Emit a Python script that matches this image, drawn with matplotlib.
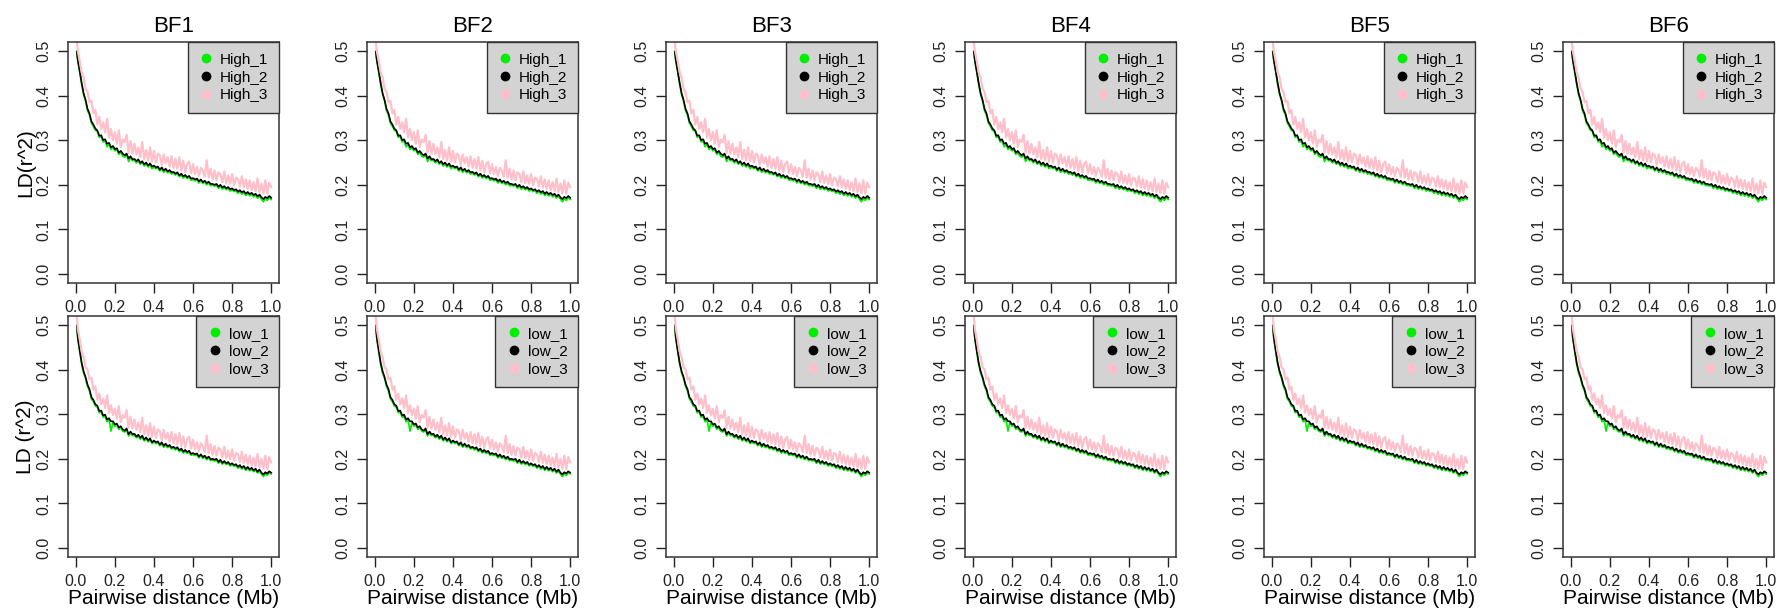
import numpy as np
import matplotlib.pyplot as plt
from matplotlib.lines import Line2D

plt.rcParams['font.family'] = ['Liberation Sans', 'DejaVu Sans']

# distance bins (Mb)
dist = [0.005] + [round(0.01 * i, 2) for i in range(1, 101)]

panels = ["BF1", "BF2", "BF3", "BF4", "BF5", "BF6"]
high_names = ["High_1", "High_2", "High_3"]
low_names = ["low_1", "low_2", "low_3"]
colors = ["#00ee00", "black", "pink"]

high_1 = [
    0.500, 0.478, 0.452, 0.425, 0.402, 0.388, 0.366, 0.356, 0.338, 0.331,
    0.322, 0.320, 0.306, 0.309, 0.296, 0.298, 0.285, 0.291, 0.279, 0.284,
    0.276, 0.279, 0.268, 0.273, 0.264, 0.262, 0.268, 0.252, 0.261, 0.254,
    0.255, 0.249, 0.254, 0.246, 0.251, 0.242, 0.247, 0.240, 0.245, 0.236,
    0.240, 0.236, 0.238, 0.231, 0.236, 0.228, 0.233, 0.227, 0.230, 0.224,
    0.226, 0.222, 0.225, 0.218, 0.222, 0.215, 0.219, 0.214, 0.217, 0.210,
    0.212, 0.209, 0.211, 0.204, 0.209, 0.203, 0.206, 0.200, 0.204, 0.198,
    0.199, 0.197, 0.199, 0.192, 0.197, 0.190, 0.194, 0.189, 0.192, 0.186,
    0.189, 0.185, 0.187, 0.181, 0.185, 0.179, 0.183, 0.176, 0.181, 0.175,
    0.179, 0.173, 0.177, 0.170, 0.175, 0.168, 0.162, 0.169, 0.165, 0.171, 0.167,
]
high_2 = [
    0.498, 0.480, 0.455, 0.428, 0.405, 0.390, 0.370, 0.360, 0.342, 0.335,
    0.326, 0.322, 0.310, 0.311, 0.300, 0.302, 0.292, 0.294, 0.284, 0.287,
    0.280, 0.282, 0.272, 0.276, 0.270, 0.266, 0.270, 0.259, 0.264, 0.257,
    0.258, 0.253, 0.257, 0.249, 0.253, 0.246, 0.250, 0.243, 0.248, 0.241,
    0.243, 0.239, 0.241, 0.234, 0.239, 0.232, 0.236, 0.230, 0.233, 0.228,
    0.229, 0.225, 0.228, 0.221, 0.225, 0.219, 0.222, 0.217, 0.220, 0.214,
    0.215, 0.212, 0.214, 0.208, 0.212, 0.206, 0.209, 0.204, 0.207, 0.202,
    0.202, 0.200, 0.202, 0.196, 0.200, 0.194, 0.197, 0.192, 0.195, 0.190,
    0.192, 0.188, 0.190, 0.185, 0.188, 0.183, 0.186, 0.180, 0.184, 0.179,
    0.182, 0.177, 0.180, 0.174, 0.178, 0.172, 0.168, 0.173, 0.170, 0.175, 0.171,
]
high_3 = [
    0.520, 0.500, 0.478, 0.452, 0.440, 0.415, 0.408, 0.385, 0.388, 0.360,
    0.368, 0.335, 0.352, 0.325, 0.340, 0.318, 0.348, 0.306, 0.325, 0.300,
    0.318, 0.292, 0.322, 0.285, 0.301, 0.296, 0.312, 0.272, 0.298, 0.270,
    0.292, 0.268, 0.284, 0.262, 0.296, 0.258, 0.278, 0.255, 0.284, 0.252,
    0.276, 0.250, 0.270, 0.266, 0.245, 0.268, 0.248, 0.262, 0.241, 0.264,
    0.238, 0.258, 0.236, 0.262, 0.232, 0.254, 0.228, 0.247, 0.252, 0.226,
    0.246, 0.224, 0.240, 0.220, 0.238, 0.232, 0.218, 0.255, 0.216, 0.236,
    0.212, 0.232, 0.210, 0.228, 0.224, 0.206, 0.230, 0.204, 0.221, 0.202,
    0.224, 0.199, 0.216, 0.213, 0.196, 0.219, 0.194, 0.212, 0.191, 0.210,
    0.188, 0.206, 0.186, 0.214, 0.184, 0.203, 0.181, 0.210, 0.180, 0.205, 0.195,
]

low_1 = [
    0.500, 0.470, 0.440, 0.412, 0.392, 0.380, 0.362, 0.352, 0.334, 0.328,
    0.318, 0.316, 0.303, 0.305, 0.293, 0.295, 0.283, 0.288, 0.262, 0.281,
    0.273, 0.276, 0.266, 0.270, 0.262, 0.260, 0.265, 0.251, 0.258, 0.252,
    0.253, 0.247, 0.251, 0.244, 0.249, 0.240, 0.245, 0.238, 0.243, 0.234,
    0.238, 0.234, 0.236, 0.229, 0.234, 0.226, 0.231, 0.225, 0.228, 0.222,
    0.224, 0.220, 0.223, 0.216, 0.220, 0.213, 0.217, 0.212, 0.215, 0.208,
    0.210, 0.207, 0.209, 0.202, 0.207, 0.201, 0.204, 0.198, 0.202, 0.196,
    0.197, 0.195, 0.197, 0.190, 0.195, 0.188, 0.192, 0.187, 0.190, 0.184,
    0.187, 0.183, 0.185, 0.179, 0.183, 0.177, 0.181, 0.174, 0.179, 0.173,
    0.177, 0.171, 0.175, 0.168, 0.173, 0.166, 0.160, 0.167, 0.163, 0.169, 0.166,
]
low_2 = [
    0.498, 0.472, 0.443, 0.415, 0.396, 0.383, 0.366, 0.356, 0.338, 0.332,
    0.322, 0.319, 0.307, 0.308, 0.297, 0.299, 0.288, 0.291, 0.284, 0.284,
    0.277, 0.279, 0.270, 0.273, 0.266, 0.263, 0.268, 0.255, 0.261, 0.255,
    0.256, 0.250, 0.254, 0.247, 0.252, 0.243, 0.248, 0.241, 0.246, 0.237,
    0.241, 0.237, 0.239, 0.232, 0.237, 0.229, 0.234, 0.228, 0.231, 0.225,
    0.227, 0.223, 0.226, 0.219, 0.223, 0.216, 0.220, 0.215, 0.218, 0.211,
    0.213, 0.210, 0.212, 0.205, 0.210, 0.204, 0.207, 0.201, 0.205, 0.199,
    0.200, 0.198, 0.200, 0.193, 0.198, 0.191, 0.195, 0.190, 0.193, 0.187,
    0.190, 0.186, 0.188, 0.182, 0.186, 0.180, 0.184, 0.177, 0.182, 0.176,
    0.180, 0.174, 0.178, 0.171, 0.176, 0.169, 0.165, 0.170, 0.167, 0.172, 0.169,
]
low_3 = [
    0.520, 0.492, 0.468, 0.440, 0.428, 0.405, 0.400, 0.378, 0.382, 0.355,
    0.362, 0.332, 0.346, 0.322, 0.335, 0.314, 0.342, 0.303, 0.320, 0.298,
    0.312, 0.290, 0.318, 0.282, 0.298, 0.292, 0.309, 0.270, 0.294, 0.268,
    0.288, 0.265, 0.281, 0.260, 0.292, 0.255, 0.275, 0.252, 0.280, 0.249,
    0.272, 0.247, 0.266, 0.262, 0.242, 0.265, 0.245, 0.258, 0.238, 0.260,
    0.235, 0.255, 0.233, 0.258, 0.229, 0.250, 0.225, 0.244, 0.249, 0.223,
    0.243, 0.221, 0.237, 0.217, 0.235, 0.229, 0.215, 0.252, 0.213, 0.233,
    0.209, 0.229, 0.207, 0.225, 0.221, 0.203, 0.227, 0.201, 0.218, 0.199,
    0.221, 0.196, 0.213, 0.210, 0.193, 0.216, 0.191, 0.209, 0.188, 0.207,
    0.185, 0.203, 0.183, 0.211, 0.181, 0.200, 0.178, 0.207, 0.177, 0.204, 0.192,
]

rows = [
    (high_names, [high_1, high_2, high_3], "LD(r^2)"),
    (low_names, [low_1, low_2, low_3], "LD (r^2)"),
]

W, H = 1789, 613
fig = plt.figure(figsize=(W / 100, H / 100), dpi=100)

ax_w = 211
col_step = 299
row_top = [42, 316]
ax_h = 241

for r, (names, series, ylab) in enumerate(rows):
    for c, bf in enumerate(panels):
        left = 68 + col_step * c
        ax = fig.add_axes([left / W, 1 - (row_top[r] + ax_h) / H, ax_w / W, ax_h / H])
        for vals, col in zip(series, colors):
            lw = 1.6 if col == "pink" else 1.2
            ax.plot(dist, vals, color=col, lw=lw)
        ax.set_xlim(-0.04, 1.04)
        ax.set_ylim(-0.02, 0.52)
        ax.set_xticks(np.arange(0, 1.01, 0.2))
        ax.set_xticklabels(["0.0", "0.2", "0.4", "0.6", "0.8", "1.0"])
        ax.set_yticks(np.arange(0, 0.51, 0.1))
        ax.set_yticklabels(["0.0", "0.1", "0.2", "0.3", "0.4", "0.5"],
                           rotation=90, va="center")
        ax.tick_params(direction="out", length=7, width=1, labelsize=11.5,
                       colors="#222222", pad=5)
        for sp in ax.spines.values():
            sp.set_linewidth(1.1)
            sp.set_color("#333333")
        if r == 0:
            ax.set_title(bf, fontsize=16, pad=7)
        else:
            ax.set_xlabel("Pairwise distance (Mb)", fontsize=15, labelpad=0)
        if c == 0:
            ax.set_ylabel(ylab, fontsize=15, labelpad=1)
        handles = [Line2D([], [], ls="none", marker="o", ms=6, color=col)
                   for col in colors]
        leg = ax.legend(handles, names, loc="upper right", borderaxespad=0,
                        fontsize=11, frameon=True, fancybox=False,
                        facecolor="#d3d3d3", edgecolor="#333333", framealpha=1,
                        handletextpad=0.4, labelspacing=0.25, handlelength=1.0,
                        borderpad=0.7)
        leg.get_frame().set_linewidth(1.0)

fig.savefig("out.png", dpi=100)
